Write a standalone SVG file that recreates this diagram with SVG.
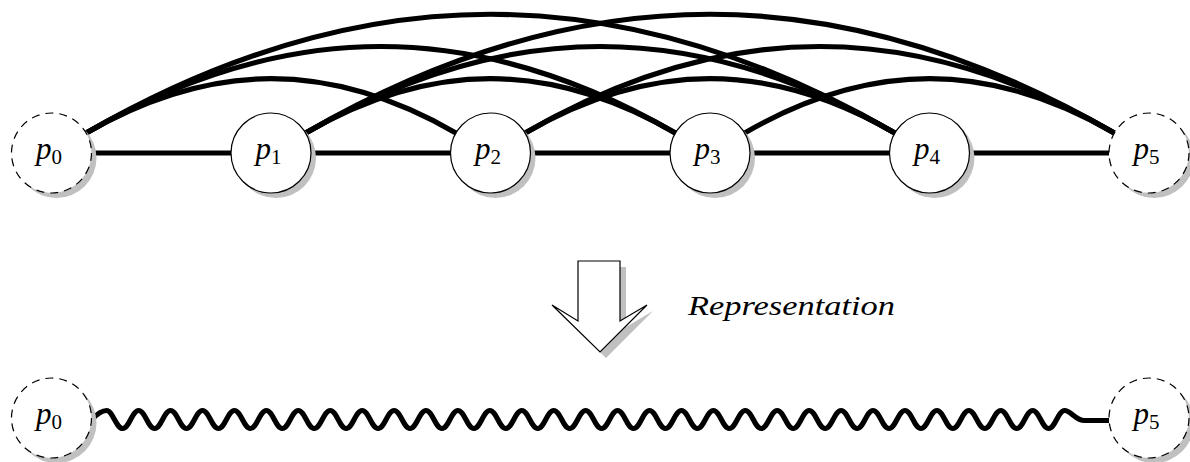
<svg xmlns="http://www.w3.org/2000/svg" width="1190" height="462" viewBox="0 0 1190 462">
  <style>
    .edge { fill: none; stroke: #000; stroke-width: 5.2; }
    .shadow { fill: #c0c0c0; stroke: none; }
    .node { fill: #fff; stroke: #000; stroke-width: 1.2; }
    .virtual { stroke-dasharray: 8 6; }
    .lbl { font-family: "Liberation Serif", "DejaVu Serif", serif; font-size: 31px; fill: #000; text-anchor: middle; }
    .lbl .v { font-style: italic; }
    .lbl .sub { font-size: 21px; }
    .caption { font-family: "Liberation Serif", "DejaVu Serif", serif; font-style: italic; font-size: 27px; fill: #000; }
  </style>
  <rect width="1190" height="462" fill="#fff"/>

  <!-- connectors: chain, bent long-range links, and the wavy summary link -->
  <g id="connectors">
    <path class="edge" d="M91.5,153 H231 M311,153 H450.5 M530.5,153 H670 M750,153 H889.5 M969.5,153 H1109"/>
    <!-- links skipping one node -->
    <path class="edge" d="M86.14,133 C211.49,60.63 330.51,60.63 455.86,133"/>
    <path class="edge" d="M305.64,133 C430.99,60.63 550.01,60.63 675.36,133"/>
    <path class="edge" d="M525.14,133 C650.49,60.63 769.51,60.63 894.86,133"/>
    <path class="edge" d="M744.64,133 C869.99,60.63 989.01,60.63 1114.36,133"/>
    <!-- links skipping two nodes -->
    <path class="edge" d="M86.14,133 C285.91,17.66 475.59,17.66 675.36,133"/>
    <path class="edge" d="M305.64,133 C505.41,17.66 695.09,17.66 894.86,133"/>
    <path class="edge" d="M525.14,133 C724.91,17.66 914.59,17.66 1114.36,133"/>
    <!-- links skipping three nodes -->
    <path class="edge" d="M86.14,133 C360.33,-25.31 620.67,-25.31 894.86,133"/>
    <path class="edge" d="M305.64,133 C579.83,-25.31 840.17,-25.31 1114.36,133"/>
    <!-- snake -->
    <path class="edge" d="M91.5,420 C96,415 101,410.5 106.7,410.5
      s9.5,18 15.965,18 s9.5,-18 15.965,-18 s9.5,18 15.965,18 s9.5,-18 15.965,-18
      s9.5,18 15.965,18 s9.5,-18 15.965,-18 s9.5,18 15.965,18 s9.5,-18 15.965,-18
      s9.5,18 15.965,18 s9.5,-18 15.965,-18 s9.5,18 15.965,18 s9.5,-18 15.965,-18
      s9.5,18 15.965,18 s9.5,-18 15.965,-18 s9.5,18 15.965,18 s9.5,-18 15.965,-18
      s9.5,18 15.965,18 s9.5,-18 15.965,-18 s9.5,18 15.965,18 s9.5,-18 15.965,-18
      s9.5,18 15.965,18 s9.5,-18 15.965,-18 s9.5,18 15.965,18 s9.5,-18 15.965,-18
      s9.5,18 15.965,18 s9.5,-18 15.965,-18 s9.5,18 15.965,18 s9.5,-18 15.965,-18
      s9.5,18 15.965,18 s9.5,-18 15.965,-18 s9.5,18 15.965,18 s9.5,-18 15.965,-18
      s9.5,18 15.965,18 s9.5,-18 15.965,-18 s9.5,18 15.965,18 s9.5,-18 15.965,-18
      s9.5,18 15.965,18 s9.5,-18 15.965,-18 s9.5,18 15.965,18 s9.5,-18 15.965,-18
      s9.5,18 15.965,18 s9.5,-18 15.965,-18 s9.5,18 15.965,18 s9.5,-18 15.965,-18
      s9.5,18 15.965,18 s9.5,-18 15.965,-18 s9.5,18 15.965,18 s9.5,-18 15.965,-18
      s9.5,18 15.965,18 s9.5,-18 15.965,-18 s9.5,18 15.965,18 s9.5,-18 15.965,-18
      s9.5,18 15.965,18 s9.5,-18 15.965,-18 s9.5,18 15.965,18 s9.5,-18 15.965,-18
      s9.5,18 15.965,18 s9.5,-18 15.965,-18 s9.5,18 15.965,18 s9.5,-18 15.965,-18
      C1071,410.5 1076,421 1085,420.5 L1109,420.5"/>
  </g>

  <!-- top row -->
  <g id="p0-top">
    <circle class="shadow" cx="56.5" cy="158" r="40"/>
    <circle class="node virtual" cx="51.5" cy="153" r="40"/>
    <text class="lbl" x="49" y="159"><tspan class="v">p</tspan><tspan class="sub" dy="4.5">0</tspan></text>
  </g>
  <g id="p1">
    <circle class="shadow" cx="276" cy="158" r="40"/>
    <circle class="node" cx="271" cy="153" r="40"/>
    <text class="lbl" x="268.5" y="159"><tspan class="v">p</tspan><tspan class="sub" dy="4.5">1</tspan></text>
  </g>
  <g id="p2">
    <circle class="shadow" cx="495.5" cy="158" r="40"/>
    <circle class="node" cx="490.5" cy="153" r="40"/>
    <text class="lbl" x="488" y="159"><tspan class="v">p</tspan><tspan class="sub" dy="4.5">2</tspan></text>
  </g>
  <g id="p3">
    <circle class="shadow" cx="715" cy="158" r="40"/>
    <circle class="node" cx="710" cy="153" r="40"/>
    <text class="lbl" x="707.5" y="159"><tspan class="v">p</tspan><tspan class="sub" dy="4.5">3</tspan></text>
  </g>
  <g id="p4">
    <circle class="shadow" cx="934.5" cy="158" r="40"/>
    <circle class="node" cx="929.5" cy="153" r="40"/>
    <text class="lbl" x="927" y="159"><tspan class="v">p</tspan><tspan class="sub" dy="4.5">4</tspan></text>
  </g>
  <g id="p5-top">
    <circle class="shadow" cx="1154" cy="158" r="40"/>
    <circle class="node virtual" cx="1149" cy="153" r="40"/>
    <text class="lbl" x="1146.5" y="159"><tspan class="v">p</tspan><tspan class="sub" dy="4.5">5</tspan></text>
  </g>

  <!-- transformation arrow -->
  <g id="arrow">
    <polygon class="shadow" points="584,267 626,267 626,327 653,311 606,358 558,311 584,327"/>
    <polygon class="node" points="578,261 620,261 620,321 647,305 600,352 552,305 578,321"/>
    <text class="caption" x="688" y="315" textLength="207" lengthAdjust="spacingAndGlyphs">Representation</text>
  </g>

  <!-- bottom row -->
  <g id="p0-bottom">
    <circle class="shadow" cx="56.5" cy="423" r="40"/>
    <circle class="node virtual" cx="51.5" cy="418" r="40"/>
    <text class="lbl" x="49" y="424"><tspan class="v">p</tspan><tspan class="sub" dy="4.5">0</tspan></text>
  </g>
  <g id="p5-bottom">
    <circle class="shadow" cx="1154" cy="423" r="40"/>
    <circle class="node virtual" cx="1149" cy="418" r="40"/>
    <text class="lbl" x="1146.5" y="424"><tspan class="v">p</tspan><tspan class="sub" dy="4.5">5</tspan></text>
  </g>
</svg>
